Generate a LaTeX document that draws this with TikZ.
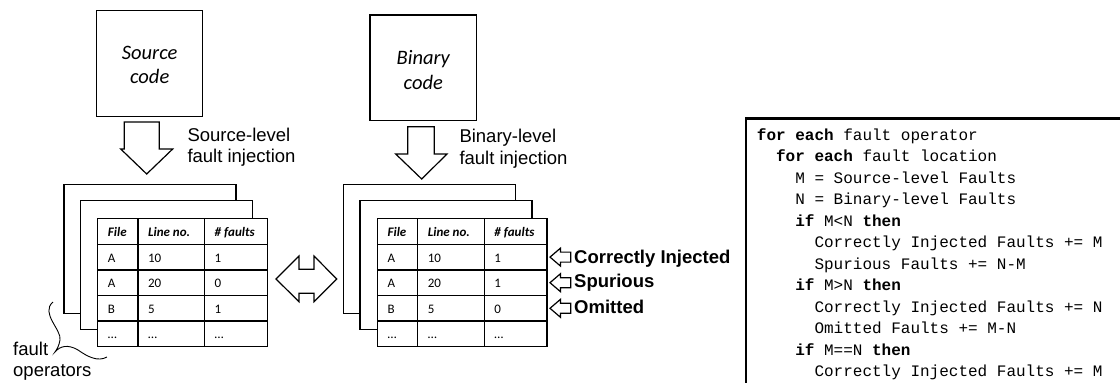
\documentclass[tikz,border=0pt]{standalone}
\usepackage{fontspec}
\setmainfont{Carlito}
\newfontfamily\labelfont{Liberation Sans}
\newfontfamily\codefont{Liberation Mono}

% A stack of three result sheets: two blank sheets behind a table
% #1 name prefix, #2 left x of the back sheet, #3-#5 fault counts
\newcommand\pagestack[5]{%
  \node[page] (#1back) at ({#2+86},249) {};
  \node[page] (#1mid)  at ({#2+102.3},265) {};
  \node[tab]  (#1tab)  at ({#2+118.5},282.7) {};
  \foreach \k in {1,...,4}
    \draw[tabline] ({#2+33.7},{218.7+25.6*\k}) -- ++(169.6,0);
  \draw[tabline] ({#2+73.9},218.7) -- ++(0,128);
  \draw[tabline] ({#2+140.5},218.7) -- ++(0,128);
  % header
  \node[head] (#1h1) at ({#2+43.7},236.5) {File};
  \node[head] (#1h2) at ({#2+83.9},236.5) {Line no.};
  \node[head] (#1h3) at ({#2+150.5},236.5) {\# faults};
  % rows
  \node[cell] (#1a1) at ({#2+43.7},262.1) {A};
  \node[cell] (#1b1) at ({#2+83.9},262.1) {10};
  \node[cell] (#1c1) at ({#2+150.5},262.1) {#3};
  \node[cell] (#1a2) at ({#2+43.7},287.7) {A};
  \node[cell] (#1b2) at ({#2+83.9},287.7) {20};
  \node[cell] (#1c2) at ({#2+150.5},287.7) {#4};
  \node[cell] (#1a3) at ({#2+43.7},313.3) {B};
  \node[cell] (#1b3) at ({#2+83.9},313.3) {5};
  \node[cell] (#1c3) at ({#2+150.5},313.3) {#5};
  \node[cell] (#1a4) at ({#2+43.7},338.9) {…};
  \node[cell] (#1b4) at ({#2+83.9},338.9) {…};
  \node[cell] (#1c4) at ({#2+150.5},338.9) {…};
}

\begin{document}
\begin{tikzpicture}[x=1pt,y=-1pt,
  box/.style={draw, line width=1.2pt, fill=white, inner sep=0pt},
  page/.style={draw, line width=1.2pt, fill=white, inner sep=0pt,
    minimum width=172pt, minimum height=128.5pt},
  tab/.style={draw, line width=1.4pt, fill=white, inner sep=0pt,
    minimum width=169.6pt, minimum height=128pt},
  tabline/.style={line width=1.4pt},
  blockarrow/.style={draw, line width=1.2pt, fill=white, line join=miter},
  cell/.style={anchor=base west, inner sep=0pt, font=\fontsize{13}{15}\selectfont},
  head/.style={anchor=base west, inner sep=0pt,
    font=\fontsize{13}{15}\selectfont\bfseries\itshape},
  codetitle/.style={font=\itshape\fontsize{20.5}{24.5}\selectfont, align=center, inner sep=0pt},
  lbl/.style={anchor=base west, inner sep=0pt, font=\labelfont\fontsize{18.5}{22}\selectfont},
  tag/.style={anchor=base west, inner sep=0pt, font=\labelfont\bfseries\fontsize{18.5}{22}\selectfont},
  code/.style={anchor=base west, inner sep=0pt, font=\codefont\fontsize{16}{20}\selectfont},
]
\useasboundingbox (0,0) rectangle (1120,383);
\clip (0,0) rectangle (1120,383);

% input programs
\node[box, minimum width=106pt, minimum height=105.6pt] (srcbox) at (149.7,63.5) {};
\node[codetitle] (srctext) at (149.7,65) {Source\\code};
\node[box, minimum width=106.7pt, minimum height=105.7pt] (binbox) at (423.3,67.8) {};
\node[codetitle] (bintext) at (423.3,70) {Binary\\code};

% injection arrows
\draw[blockarrow] (124.3,122) -- (159.3,122) -- (159.3,149) -- (172.7,149)
  -- (146.7,174) -- (120.7,149) -- (124.3,149) -- cycle;
\draw[blockarrow] (407.7,126.7) -- (434.3,126.7) -- (434.3,154) -- (447,154)
  -- (421.7,179) -- (395.7,154) -- (407.7,154) -- cycle;
\node[lbl] (srclbl1) at (187.3,141) {Source-level};
\node[lbl] (srclbl2) at (187.3,162.5) {fault injection};
\node[lbl] (binlbl1) at (459.3,142.7) {Binary-level};
\node[lbl] (binlbl2) at (459.3,164.3) {fault injection};

% result sheets
\pagestack{src}{64}{1}{0}{1}
\pagestack{bin}{343.7}{1}{1}{0}

% comparison arrow
\draw[blockarrow] (276,279) -- (299,256) -- (299,269.3) -- (314,269.3) -- (314,256)
  -- (336.7,279) -- (314,301.7) -- (314,293.3) -- (299,293.3) -- (299,301.7) -- cycle;

% outcome arrows and tags
\foreach \c in {257.1,282.7,308.3}
  \draw[blockarrow] (550,\c) -- (560.5,\c-9) -- (560.5,\c-5) -- (570.7,\c-5)
    -- (570.7,\c+5) -- (560.5,\c+5) -- (560.5,\c+9) -- cycle;
\node[tag] (tagci) at (574,263.3) {Correctly Injected};
\node[tag] (tagsp) at (574,287.6) {Spurious};
\node[tag] (tagom) at (574,313.3) {Omitted};

% fault operators brace
\node[lbl] (fo1) at (13,355.5) {fault};
\node[lbl] (fo2) at (13,376.5) {operators};
\draw[line width=0.9pt] (53,302) .. controls (40,313) and (62,330) .. (60,340)
  .. controls (59,346) and (57,349) .. (55,352)
  .. controls (60,346) and (68,344) .. (78,350)
  .. controls (88,357) and (98,362) .. (107,357);

% counting algorithm
\draw[line width=2.2pt] (746,118.5) rectangle (1140,400);
\node[code] (l1)  at (756.7,140.3) {\textbf{for each} fault operator};
\node[code] (l2)  at (775.9,161.8) {\textbf{for each} fault location};
\node[code] (l3)  at (795.1,183.3) {M = Source-level Faults};
\node[code] (l4)  at (795.1,204.8) {N = Binary-level Faults};
\node[code] (l5)  at (795.1,226.3) {\textbf{if} M<N \textbf{then}};
\node[code] (l6)  at (814.3,247.8) {Correctly Injected Faults += M};
\node[code] (l7)  at (814.3,269.3) {Spurious Faults += N-M};
\node[code] (l8)  at (795.1,290.8) {\textbf{if} M>N \textbf{then}};
\node[code] (l9)  at (814.3,312.3) {Correctly Injected Faults += N};
\node[code] (l10) at (814.3,333.8) {Omitted Faults += M-N};
\node[code] (l11) at (795.1,355.3) {\textbf{if} M==N \textbf{then}};
\node[code] (l12) at (814.3,376.8) {Correctly Injected Faults += M};
\end{tikzpicture}
\end{document}
